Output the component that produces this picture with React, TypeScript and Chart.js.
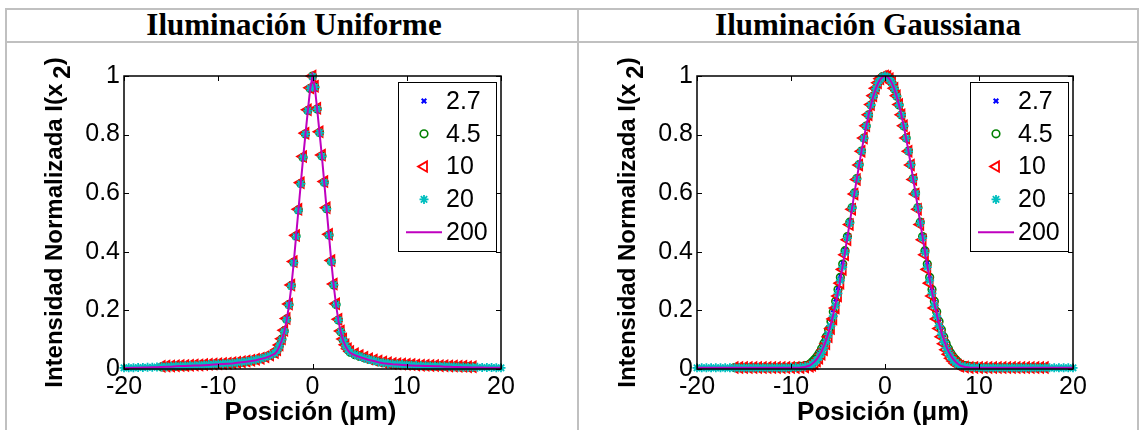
import React, { useEffect, useRef } from "react";
import { Chart, registerables } from "chart.js";

Chart.register(...registerables);

// ---------- labels ----------
const PANEL_TITLES = ["Iluminación Uniforme", "Iluminación Gaussiana"];
const SERIES_LABELS = ["2.7", "4.5", "10", "20", "200"];
const X_TICKS = [-20, -10, 0, 10, 20];
const Y_TICKS = [0, 0.2, 0.4, 0.6, 0.8, 1];
const X_TITLE = "Posición (μm)";
const Y_TITLE_MAIN = "Intensidad Normalizada I(x";
const Y_TITLE_SUB = "2";
const Y_TITLE_END = ")";

// ---------- uniform illumination ----------
const UNI_X_FULL = [
  -20, -19.5, -19, -18.5, -18, -17.5, -17, -16.5, -16, -15.5, -15, -14.5, -14, -13.5, -13, -12.5, -12, -11.5, -11, -10.5,
  -10, -9.5, -9, -8.5, -8, -7.5, -7, -6.5, -6, -5.5, -5, -4.5, -4,
  -3.75, -3.5, -3.25, -3, -2.75, -2.5, -2.25, -2, -1.75, -1.5, -1.25, -1, -0.75, -0.5, -0.25, 0,
  0.25, 0.5, 0.75, 1, 1.25, 1.5, 1.75, 2, 2.25, 2.5, 2.75, 3, 3.25, 3.5, 3.75,
  4, 4.5, 5, 5.5, 6, 6.5, 7, 7.5, 8, 8.5, 9, 9.5, 10, 10.5, 11, 11.5, 12, 12.5, 13, 13.5, 14, 14.5, 15, 15.5, 16, 16.5,
  17, 17.5, 18, 18.5, 19, 19.5, 20,
];
const UNI_X_PART = [
  -16, -15.5, -15, -14.5, -14, -13.5, -13, -12.5, -12, -11.5, -11, -10.5,
  -10, -9.5, -9, -8.5, -8, -7.5, -7, -6.5, -6, -5.5, -5, -4.5, -4,
  -3.75, -3.5, -3.25, -3, -2.75, -2.5, -2.25, -2, -1.75, -1.5, -1.25, -1, -0.75, -0.5, -0.25, 0,
  0.25, 0.5, 0.75, 1, 1.25, 1.5, 1.75, 2, 2.25, 2.5, 2.75, 3, 3.25, 3.5, 3.75,
  4, 4.5, 5, 5.5, 6, 6.5, 7, 7.5, 8, 8.5, 9, 9.5, 10, 10.5, 11, 11.5, 12, 12.5, 13, 13.5, 14, 14.5, 15, 15.5, 16, 16.5, 17,
];
const UNI_2_7 = [
  0.007, 0.008, 0.008, 0.009, 0.010, 0.010, 0.011, 0.012, 0.012, 0.013, 0.014, 0.015, 0.016, 0.017, 0.018, 0.019, 0.021,
  0.023, 0.025, 0.028, 0.031, 0.036, 0.041, 0.048, 0.057,
  0.068, 0.085, 0.108, 0.136, 0.176, 0.226, 0.290, 0.368, 0.457, 0.545, 0.634, 0.722, 0.801, 0.880, 0.956, 1.000,
  0.960, 0.885, 0.805, 0.726, 0.637, 0.548, 0.459, 0.370, 0.291, 0.225, 0.172, 0.132, 0.103, 0.084, 0.069,
  0.060, 0.051, 0.045, 0.039, 0.034, 0.030, 0.026, 0.023, 0.020, 0.018, 0.016, 0.015, 0.014, 0.013, 0.012, 0.012, 0.011,
  0.011, 0.010, 0.010, 0.009, 0.009, 0.008, 0.008, 0.007, 0.007, 0.006,
];
const UNI_4_5 = [
  0.007, 0.008, 0.008, 0.009, 0.010, 0.010, 0.011, 0.012, 0.012, 0.013, 0.014, 0.015, 0.016, 0.017, 0.018, 0.019, 0.021,
  0.023, 0.025, 0.028, 0.031, 0.035, 0.040, 0.046, 0.054,
  0.064, 0.081, 0.102, 0.130, 0.170, 0.220, 0.285, 0.364, 0.454, 0.543, 0.633, 0.722, 0.802, 0.882, 0.957, 1.000,
  0.962, 0.887, 0.807, 0.727, 0.637, 0.547, 0.457, 0.367, 0.287, 0.220, 0.167, 0.127, 0.099, 0.080, 0.066,
  0.057, 0.049, 0.043, 0.038, 0.033, 0.029, 0.025, 0.022, 0.019, 0.017, 0.016, 0.015, 0.014, 0.013, 0.012, 0.012, 0.011,
  0.011, 0.010, 0.010, 0.009, 0.009, 0.008, 0.008, 0.007, 0.007, 0.006,
];
const UNI_10 = [
  0.009, 0.010, 0.010, 0.011, 0.012, 0.012, 0.013, 0.014, 0.014, 0.015, 0.016, 0.017, 0.018, 0.019, 0.020, 0.021, 0.023,
  0.025, 0.027, 0.030, 0.033, 0.037, 0.042, 0.048, 0.056,
  0.066, 0.082, 0.103, 0.132, 0.172, 0.222, 0.287, 0.367, 0.456, 0.545, 0.636, 0.725, 0.805, 0.885, 0.960, 1.000,
  0.965, 0.890, 0.810, 0.730, 0.640, 0.550, 0.460, 0.370, 0.290, 0.223, 0.170, 0.130, 0.102, 0.083, 0.069,
  0.060, 0.052, 0.046, 0.040, 0.035, 0.031, 0.027, 0.024, 0.021, 0.019, 0.018, 0.017, 0.016, 0.015, 0.014, 0.013, 0.013,
  0.012, 0.012, 0.011, 0.011, 0.010, 0.010, 0.009, 0.009, 0.008, 0.008,
];
const UNI_20 = [
  0.004, 0.004, 0.004, 0.005, 0.005, 0.006, 0.006, 0.007, 0.008, 0.008, 0.009, 0.010, 0.010, 0.011, 0.012, 0.012, 0.013,
  0.014, 0.015, 0.016, 0.017, 0.018, 0.019, 0.020, 0.022, 0.024, 0.026, 0.029, 0.032, 0.035, 0.040, 0.046, 0.054,
  0.064, 0.080, 0.100, 0.128, 0.168, 0.218, 0.283, 0.362, 0.452, 0.541, 0.632, 0.722, 0.802, 0.882, 0.958, 0.998,
  0.962, 0.887, 0.806, 0.726, 0.636, 0.546, 0.456, 0.366, 0.287, 0.220, 0.167, 0.127, 0.099, 0.080, 0.066,
  0.057, 0.049, 0.043, 0.037, 0.032, 0.028, 0.024, 0.021, 0.019, 0.017, 0.016, 0.015, 0.014, 0.013, 0.012, 0.011, 0.011,
  0.010, 0.010, 0.009, 0.009, 0.008, 0.008, 0.007, 0.007, 0.006, 0.006, 0.006, 0.005, 0.005, 0.005, 0.004, 0.004,
];
const UNI_200 = [
  0.003, 0.003, 0.004, 0.004, 0.005, 0.005, 0.006, 0.006, 0.007, 0.008, 0.008, 0.009, 0.010, 0.010, 0.011, 0.012, 0.012,
  0.013, 0.014, 0.015, 0.016, 0.017, 0.018, 0.019, 0.021, 0.023, 0.025, 0.027, 0.030, 0.034, 0.038, 0.044, 0.052,
  0.062, 0.078, 0.098, 0.125, 0.165, 0.215, 0.280, 0.360, 0.450, 0.540, 0.630, 0.720, 0.800, 0.880, 0.955, 1.000,
  0.960, 0.885, 0.805, 0.725, 0.635, 0.545, 0.455, 0.365, 0.285, 0.218, 0.165, 0.125, 0.097, 0.078, 0.064,
  0.055, 0.047, 0.041, 0.036, 0.031, 0.027, 0.023, 0.020, 0.018, 0.016, 0.015, 0.014, 0.013, 0.012, 0.011, 0.011, 0.010,
  0.010, 0.009, 0.009, 0.008, 0.008, 0.007, 0.007, 0.006, 0.006, 0.005, 0.005, 0.005, 0.004, 0.004, 0.004, 0.004,
];

// ---------- gaussian illumination ----------
const GAU_X_FULL = [
  -20, -19.5, -19, -18.5, -18, -17.5, -17, -16.5, -16, -15.5, -15, -14.5, -14, -13.5, -13, -12.5, -12, -11.5, -11, -10.5,
  -10, -9.5, -9, -8.5,
  -8, -7.75, -7.5, -7.25, -7, -6.75, -6.5, -6.25, -6, -5.75, -5.5, -5.25, -5, -4.75, -4.5, -4.25,
  -4, -3.75, -3.5, -3.25, -3, -2.75, -2.5, -2.25, -2, -1.75, -1.5, -1.25, -1, -0.75, -0.5, -0.25, 0,
  0.25, 0.5, 0.75, 1, 1.25, 1.5, 1.75, 2, 2.25, 2.5, 2.75, 3, 3.25, 3.5, 3.75, 4,
  4.25, 4.5, 4.75, 5, 5.25, 5.5, 5.75, 6, 6.25, 6.5, 6.75, 7, 7.25, 7.5, 7.75, 8,
  8.5, 9, 9.5, 10, 10.5, 11, 11.5, 12, 12.5, 13, 13.5, 14, 14.5, 15, 15.5, 16, 16.5, 17, 17.5, 18, 18.5, 19, 19.5, 20,
];
const GAU_X_PART = [
  -16, -15.5, -15, -14.5, -14, -13.5, -13, -12.5, -12, -11.5, -11, -10.5, -10, -9.5, -9, -8.5,
  -8, -7.75, -7.5, -7.25, -7, -6.75, -6.5, -6.25, -6, -5.75, -5.5, -5.25, -5, -4.75, -4.5, -4.25,
  -4, -3.75, -3.5, -3.25, -3, -2.75, -2.5, -2.25, -2, -1.75, -1.5, -1.25, -1, -0.75, -0.5, -0.25, 0,
  0.25, 0.5, 0.75, 1, 1.25, 1.5, 1.75, 2, 2.25, 2.5, 2.75, 3, 3.25, 3.5, 3.75, 4,
  4.25, 4.5, 4.75, 5, 5.25, 5.5, 5.75, 6, 6.25, 6.5, 6.75, 7, 7.25, 7.5, 7.75, 8,
  8.5, 9, 9.5, 10, 10.5, 11, 11.5, 12, 12.5, 13, 13.5, 14, 14.5, 15, 15.5, 16, 16.5, 17,
];
const GAU_2_7 = [
  0.005, 0.005, 0.005, 0.005, 0.005, 0.005, 0.005, 0.005, 0.005, 0.005, 0.005, 0.006, 0.007, 0.009, 0.012, 0.016,
  0.022, 0.029, 0.038, 0.049, 0.062, 0.077, 0.095, 0.117, 0.142, 0.170, 0.202, 0.238, 0.277, 0.318, 0.362, 0.407,
  0.454, 0.502, 0.551, 0.600, 0.648, 0.695, 0.741, 0.785, 0.826, 0.864, 0.898, 0.929, 0.954, 0.974, 0.989, 0.997, 1.000,
  0.997, 0.989, 0.974, 0.954, 0.929, 0.898, 0.864, 0.826, 0.785, 0.741, 0.695, 0.648, 0.600, 0.551, 0.502, 0.454,
  0.407, 0.362, 0.318, 0.277, 0.238, 0.202, 0.170, 0.142, 0.117, 0.095, 0.077, 0.062, 0.049, 0.038, 0.029, 0.022,
  0.016, 0.012, 0.009, 0.007, 0.006, 0.005, 0.005, 0.005, 0.005, 0.005, 0.005, 0.005, 0.005, 0.005, 0.005, 0.005, 0.005, 0.005,
];
const GAU_4_5 = [
  0.005, 0.005, 0.005, 0.005, 0.005, 0.005, 0.005, 0.005, 0.005, 0.005, 0.005, 0.005, 0.006, 0.007, 0.009, 0.012,
  0.017, 0.024, 0.032, 0.042, 0.054, 0.069, 0.087, 0.109, 0.134, 0.162, 0.195, 0.231, 0.271, 0.313, 0.358, 0.404,
  0.452, 0.501, 0.551, 0.601, 0.650, 0.698, 0.744, 0.788, 0.829, 0.867, 0.901, 0.931, 0.956, 0.976, 0.990, 0.998, 1.000,
  0.998, 0.990, 0.976, 0.956, 0.931, 0.901, 0.867, 0.829, 0.788, 0.744, 0.698, 0.650, 0.601, 0.551, 0.501, 0.452,
  0.404, 0.358, 0.313, 0.271, 0.231, 0.195, 0.162, 0.134, 0.109, 0.087, 0.069, 0.054, 0.042, 0.032, 0.024, 0.017,
  0.012, 0.009, 0.007, 0.006, 0.005, 0.005, 0.005, 0.005, 0.005, 0.005, 0.005, 0.005, 0.005, 0.005, 0.005, 0.005, 0.005, 0.005,
];
const GAU_10 = [
  0.005, 0.005, 0.005, 0.005, 0.005, 0.005, 0.005, 0.005, 0.005, 0.005, 0.005, 0.005, 0.005, 0.005, 0.005, 0.007,
  0.009, 0.013, 0.019, 0.027, 0.037, 0.050, 0.066, 0.086, 0.110, 0.138, 0.171, 0.208, 0.249, 0.293, 0.340, 0.390,
  0.441, 0.493, 0.545, 0.597, 0.647, 0.696, 0.743, 0.788, 0.830, 0.868, 0.903, 0.933, 0.958, 0.977, 0.991, 0.998, 1.000,
  0.998, 0.991, 0.977, 0.958, 0.933, 0.903, 0.868, 0.830, 0.788, 0.743, 0.696, 0.647, 0.597, 0.545, 0.493, 0.441,
  0.390, 0.340, 0.293, 0.249, 0.208, 0.171, 0.138, 0.110, 0.086, 0.066, 0.050, 0.037, 0.027, 0.019, 0.013, 0.009,
  0.007, 0.005, 0.005, 0.005, 0.005, 0.005, 0.005, 0.005, 0.005, 0.005, 0.005, 0.005, 0.005, 0.005, 0.005, 0.005, 0.005, 0.005,
];
const GAU_20 = [
  0.004, 0.004, 0.004, 0.004, 0.004, 0.004, 0.004, 0.004, 0.004, 0.004, 0.004, 0.004, 0.004, 0.004, 0.004, 0.004,
  0.004, 0.004, 0.004, 0.004, 0.005, 0.005, 0.006, 0.008,
  0.011, 0.016, 0.022, 0.030, 0.041, 0.055, 0.072, 0.093, 0.118, 0.147, 0.180, 0.217, 0.258, 0.302, 0.348, 0.397,
  0.447, 0.498, 0.549, 0.599, 0.648, 0.697, 0.743, 0.787, 0.829, 0.867, 0.901, 0.931, 0.956, 0.976, 0.990, 0.997, 1.000,
  0.997, 0.990, 0.976, 0.956, 0.931, 0.901, 0.867, 0.829, 0.787, 0.743, 0.697, 0.648, 0.599, 0.549, 0.498, 0.447,
  0.397, 0.348, 0.302, 0.258, 0.217, 0.180, 0.147, 0.118, 0.093, 0.072, 0.055, 0.041, 0.030, 0.022, 0.016, 0.011,
  0.008, 0.006, 0.005, 0.005, 0.004, 0.004, 0.004, 0.004, 0.004, 0.004, 0.004, 0.004, 0.004, 0.004, 0.004, 0.004,
  0.004, 0.004, 0.004, 0.004, 0.004, 0.004, 0.004, 0.004,
];
const GAU_200 = [
  0.004, 0.004, 0.004, 0.004, 0.004, 0.004, 0.004, 0.004, 0.004, 0.004, 0.004, 0.004, 0.004, 0.004, 0.004, 0.004,
  0.004, 0.004, 0.004, 0.004, 0.004, 0.004, 0.005, 0.007,
  0.012, 0.018, 0.025, 0.034, 0.046, 0.060, 0.078, 0.100, 0.125, 0.154, 0.187, 0.224, 0.264, 0.307, 0.353, 0.401,
  0.450, 0.500, 0.550, 0.600, 0.649, 0.697, 0.743, 0.787, 0.828, 0.866, 0.900, 0.930, 0.955, 0.975, 0.989, 0.997, 1.000,
  0.997, 0.989, 0.975, 0.955, 0.930, 0.900, 0.866, 0.828, 0.787, 0.743, 0.697, 0.649, 0.600, 0.550, 0.500, 0.450,
  0.401, 0.353, 0.307, 0.264, 0.224, 0.187, 0.154, 0.125, 0.100, 0.078, 0.060, 0.046, 0.034, 0.025, 0.018, 0.012,
  0.007, 0.005, 0.004, 0.004, 0.004, 0.004, 0.004, 0.004, 0.004, 0.004, 0.004, 0.004, 0.004, 0.004, 0.004, 0.004,
  0.004, 0.004, 0.004, 0.004, 0.004, 0.004, 0.004, 0.004,
];

// ---------- styling ----------
const SANS = '"Liberation Sans", Arial, Helvetica, sans-serif';
const COLORS = ["#0000ff", "#008000", "#ff0000", "#00bfbf", "#bf00bf"];
const TICK_FONT_SIZE = 25;

const pairs = (xs: number[], ys: number[]) => xs.map((x, i) => ({ x, y: ys[i] }));

function buildDatasets(series: { xs: number[]; ys: number[] }[]) {
  const styles: any[] = [
    { pointStyle: "crossRot", pointRadius: 3, borderWidth: 2 },
    { pointStyle: "circle", pointRadius: 3.8, borderWidth: 1.6 },
    { pointStyle: "triangle", pointRotation: 270, pointRadius: 6, borderWidth: 1.8 },
    { pointStyle: "star", pointRadius: 4.5, borderWidth: 1.8 },
  ];
  return series.map((s, i) => {
    const base: any = {
      label: SERIES_LABELS[i],
      data: pairs(s.xs, s.ys),
      borderColor: COLORS[i],
      backgroundColor: "rgba(0,0,0,0)",
      pointBorderColor: COLORS[i],
      pointBackgroundColor: "rgba(0,0,0,0)",
      clip: false,
      order: 4 - i,
    };
    if (i < 4) {
      return { ...base, ...styles[i], pointBorderWidth: styles[i].borderWidth, showLine: false };
    }
    return { ...base, showLine: true, pointRadius: 0, borderWidth: 2, tension: 0 };
  });
}

function drawMarker(ctx: CanvasRenderingContext2D, i: number, x: number, y: number) {
  ctx.save();
  ctx.strokeStyle = COLORS[i];
  ctx.beginPath();
  if (i === 0) {
    const r = 2.3;
    ctx.lineWidth = 2;
    ctx.moveTo(x - r, y - r); ctx.lineTo(x + r, y + r);
    ctx.moveTo(x - r, y + r); ctx.lineTo(x + r, y - r);
  } else if (i === 1) {
    ctx.lineWidth = 1.6;
    ctx.arc(x, y, 3.8, 0, Math.PI * 2);
  } else if (i === 2) {
    const r = 6;
    ctx.lineWidth = 1.8;
    ctx.moveTo(x - r, y);
    ctx.lineTo(x + r * 0.5, y - r * 0.866);
    ctx.lineTo(x + r * 0.5, y + r * 0.866);
    ctx.closePath();
  } else if (i === 3) {
    const r = 4.5;
    ctx.lineWidth = 1.8;
    ctx.moveTo(x - r, y); ctx.lineTo(x + r, y);
    ctx.moveTo(x, y - r); ctx.lineTo(x, y + r);
    const d = r * 0.707;
    ctx.moveTo(x - d, y - d); ctx.lineTo(x + d, y + d);
    ctx.moveTo(x - d, y + d); ctx.lineTo(x + d, y - d);
  } else {
    ctx.lineWidth = 2;
    ctx.moveTo(x - 18, y); ctx.lineTo(x + 18, y);
  }
  ctx.stroke();
  ctx.restore();
}

const framePlugin = {
  id: "matlabFrame",
  afterDatasetsDraw(chart: any) {
    const { ctx, chartArea: a } = chart;
    const xs = chart.scales.x;
    const ys = chart.scales.y;
    ctx.save();
    // axes box and inward ticks
    ctx.strokeStyle = "#000";
    ctx.lineWidth = 1.5;
    ctx.strokeRect(a.left, a.top, a.right - a.left, a.bottom - a.top);
    ctx.beginPath();
    for (const v of X_TICKS) {
      const px = Math.round(xs.getPixelForValue(v)) + 0.5;
      ctx.moveTo(px, a.bottom); ctx.lineTo(px, a.bottom - 5);
      ctx.moveTo(px, a.top); ctx.lineTo(px, a.top + 5);
    }
    for (const v of Y_TICKS) {
      const py = Math.round(ys.getPixelForValue(v)) + 0.5;
      ctx.moveTo(a.left, py); ctx.lineTo(a.left + 5, py);
      ctx.moveTo(a.right, py); ctx.lineTo(a.right - 5, py);
    }
    ctx.lineWidth = 1;
    ctx.stroke();

    // legend
    const bl = a.right - 103;
    const br = a.right - 5;
    const bt = a.top + 6;
    const bb = a.top + 175;
    ctx.fillStyle = "#fff";
    ctx.fillRect(bl, bt, br - bl, bb - bt);
    ctx.strokeStyle = "#000";
    ctx.lineWidth = 1;
    ctx.strokeRect(bl + 0.5, bt + 0.5, br - bl, bb - bt);
    ctx.font = `${TICK_FONT_SIZE}px ${SANS}`;
    ctx.fillStyle = "#000";
    ctx.textBaseline = "middle";
    ctx.textAlign = "left";
    SERIES_LABELS.forEach((lab, i) => {
      const y = a.top + 25 + i * 32.8;
      drawMarker(ctx, i, bl + 26, y);
      ctx.fillStyle = "#000";
      ctx.fillText(lab, bl + 48, y + 1);
    });

    // x title
    ctx.font = `bold 26px ${SANS}`;
    ctx.textAlign = "center";
    ctx.textBaseline = "middle";
    ctx.fillText(X_TITLE, (a.left + a.right) / 2 - 2, a.bottom + 44);

    // y title (rotated, with subscript)
    ctx.save();
    ctx.translate(a.left - 62, (a.top + a.bottom) / 2);
    ctx.rotate(-Math.PI / 2);
    ctx.font = `bold 24px ${SANS}`;
    ctx.textAlign = "left";
    ctx.textBaseline = "alphabetic";
    const w1 = ctx.measureText(Y_TITLE_MAIN).width;
    const gap = 5;
    const w2 = ctx.measureText(Y_TITLE_SUB).width;
    const w3 = ctx.measureText(Y_TITLE_END).width;
    let cx = -(w1 + gap + w2 + w3) / 2;
    ctx.fillText(Y_TITLE_MAIN, cx, 0);
    cx += w1 + gap;
    ctx.fillText(Y_TITLE_SUB, cx, 8);
    cx += w2;
    ctx.fillText(Y_TITLE_END, cx, 0);
    ctx.restore();

    ctx.restore();
  },
};

function Plot(props: {
  series: { xs: number[]; ys: number[] }[];
  left: number;
  width: number;
  yAxisWidth: number;
  padRight: number;
}) {
  const ref = useRef<HTMLCanvasElement>(null);
  useEffect(() => {
    const tickFont = { size: TICK_FONT_SIZE, family: SANS };
    const chart = new Chart(ref.current as HTMLCanvasElement, {
      type: "scatter",
      data: { datasets: buildDatasets(props.series) as any },
      options: {
        animation: false,
        responsive: false,
        events: [],
        layout: { padding: { left: 0, right: props.padRight, top: 30, bottom: 0 } },
        plugins: { legend: { display: false }, tooltip: { enabled: false } },
        scales: {
          x: {
            type: "linear",
            min: -20,
            max: 20,
            afterBuildTicks: (s: any) => {
              s.ticks = X_TICKS.map((v) => ({ value: v }));
            },
            afterFit: (s: any) => {
              s.height = 61;
            },
            ticks: {
              font: tickFont,
              color: "#000",
              padding: 3,
              maxRotation: 0,
              autoSkip: false,
              callback: (v: any) => String(v),
            },
            grid: { display: false, drawTicks: false },
            border: { display: false },
          },
          y: {
            type: "linear",
            min: 0,
            max: 1,
            afterBuildTicks: (s: any) => {
              s.ticks = Y_TICKS.map((v) => ({ value: v }));
            },
            afterFit: (s: any) => {
              s.width = props.yAxisWidth;
            },
            ticks: {
              font: tickFont,
              color: "#000",
              padding: 4,
              autoSkip: false,
              callback: (v: any) => String(v),
            },
            grid: { display: false, drawTicks: false },
            border: { display: false },
          },
        },
      } as any,
      plugins: [framePlugin],
    });
    return () => chart.destroy();
  }, []);
  return (
    <canvas
      ref={ref}
      width={props.width}
      height={384}
      style={{ position: "absolute", left: props.left, top: 46, width: props.width, height: 384 }}
    />
  );
}

const GRAY = "#c0c0c0";

export default function App() {
  const lineStyle = (l: number, t: number, w: number, h: number): React.CSSProperties => ({
    position: "absolute",
    left: l,
    top: t,
    width: w,
    height: h,
    background: GRAY,
    zIndex: 2,
  });
  const headStyle = (center: number): React.CSSProperties => ({
    position: "absolute",
    left: center - 280,
    width: 560,
    top: 10,
    lineHeight: "30px",
    textAlign: "center",
    fontFamily: '"Liberation Serif", "Times New Roman", serif',
    fontWeight: "bold",
    fontSize: 31,
    color: "#000",
    whiteSpace: "nowrap",
  });
  return (
    <div
      style={{
        position: "fixed",
        left: 0,
        top: 0,
        width: 1145,
        height: 430,
        background: "#fff",
        overflow: "hidden",
      }}
    >
      <div style={lineStyle(5, 8, 1134, 2)} />
      <div style={lineStyle(5, 41, 1134, 2)} />
      <div style={lineStyle(5, 8, 2, 430)} />
      <div style={lineStyle(577, 8, 2, 430)} />
      <div style={lineStyle(1137, 8, 2, 430)} />
      <div style={headStyle(294)}>{PANEL_TITLES[0]}</div>
      <div style={headStyle(868)}>{PANEL_TITLES[1]}</div>
      <Plot
        series={[
          { xs: UNI_X_PART, ys: UNI_2_7 },
          { xs: UNI_X_PART, ys: UNI_4_5 },
          { xs: UNI_X_PART, ys: UNI_10 },
          { xs: UNI_X_FULL, ys: UNI_20 },
          { xs: UNI_X_FULL, ys: UNI_200 },
        ]}
        left={10}
        width={565}
        yAxisWidth={114}
        padRight={74}
      />
      <Plot
        series={[
          { xs: GAU_X_PART, ys: GAU_2_7 },
          { xs: GAU_X_PART, ys: GAU_4_5 },
          { xs: GAU_X_PART, ys: GAU_10 },
          { xs: GAU_X_FULL, ys: GAU_20 },
          { xs: GAU_X_FULL, ys: GAU_200 },
        ]}
        left={582}
        width={560}
        yAxisWidth={115}
        padRight={69}
      />
    </div>
  );
}
